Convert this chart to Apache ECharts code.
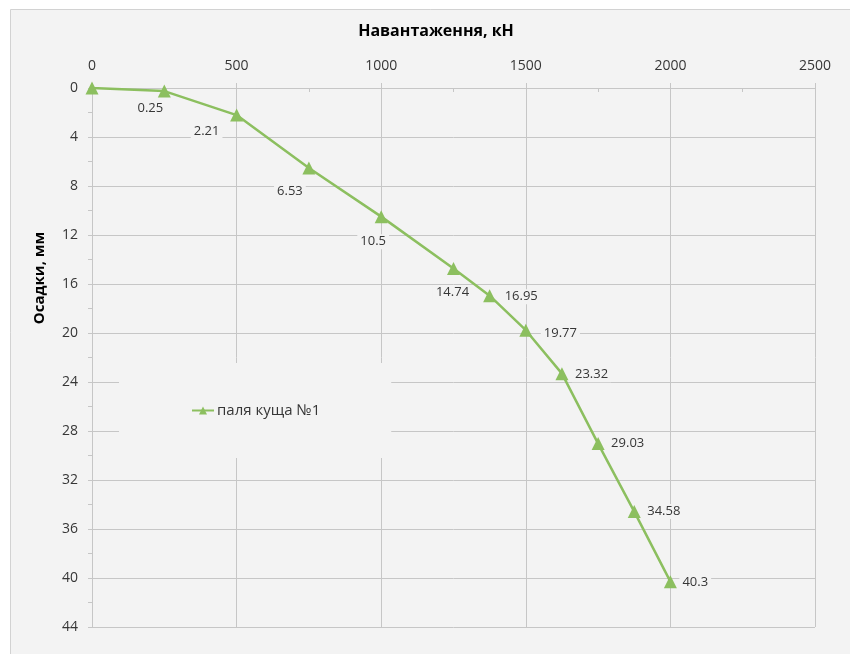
<!DOCTYPE html>
<html>
<head>
<meta charset="utf-8">
<title>Осадки палі</title>
<script src="https://cdn.jsdelivr.net/npm/echarts@6/dist/echarts.min.js"></script>
<style>
  html, body { margin: 0; padding: 0; background: #ffffff; }
  #chart { width: 850px; height: 654px; }
</style>
</head>
<body>
<div id="chart"></div>
<script>
// Load steps, kN
const loads = [0, 250, 500, 750, 1000, 1250, 1375, 1500, 1625, 1750, 1875, 2000];
// Measured settlement at each step, mm
const settlements = [0, 0.25, 2.21, 6.53, 10.5, 14.74, 16.95, 19.77, 23.32, 29.03, 34.58, 40.3];
const seriesName = 'паля куща №1';
const xTitle = 'Навантаження, кН';
const yTitle = 'Осадки, мм';

// Label placement per point: [dx, dy] of the label from its marker, and anchor
const labelLayout = [
  null,
  { dx: -14, dy: 17, align: 'center' },
  { dx: -30, dy: 16, align: 'center' },
  { dx: -19, dy: 23, align: 'center' },
  { dx: -8, dy: 25, align: 'center' },
  { dx: -1, dy: 24, align: 'center' },
  { dx: 12, dy: 1, align: 'left' },
  { dx: 15, dy: 3, align: 'left' },
  { dx: 10, dy: 1, align: 'left' },
  { dx: 10, dy: 0, align: 'left' },
  { dx: 10, dy: 0, align: 'left' },
  { dx: 9, dy: 1, align: 'left' }
];

const FONT = '"Open Sans", "Noto Sans", sans-serif';
const GREEN = '#8cbf5f';
const GRID = '#c6c6c6';
const TEXT = '#363636';
const BG = '#f3f3f3';

const points = loads.map((x, i) => {
  const lay = labelLayout[i];
  const item = { value: [x, settlements[i]] };
  if (!lay) {
    item.label = { show: false };
  } else {
    item.label = {
      show: true,
      position: 'inside',
      align: lay.align,
      offset: [lay.dx, lay.dy]
    };
  }
  return item;
});

const chart = echarts.init(document.getElementById('chart'), null, { renderer: 'canvas' });
chart.setOption({
  backgroundColor: '#ffffff',
  animation: false,
  textStyle: { fontFamily: FONT },
  graphic: [
    {
      type: 'rect',
      z: -100,
      silent: true,
      shape: { x: 10.5, y: 9.5, width: 860, height: 660 },
      style: { fill: BG, stroke: '#d2d2d2', lineWidth: 1 }
    },
    {
      // horizontal axis title
      type: 'text',
      silent: true,
      x: 436, y: 31,
      style: {
        text: xTitle,
        fontFamily: FONT, fontSize: 16, fontWeight: 'bold', fill: '#000000',
        textAlign: 'center', textVerticalAlign: 'middle'
      }
    },
    {
      // vertical axis title
      type: 'text',
      silent: true,
      x: 40, y: 278,
      rotation: Math.PI / 2,
      style: {
        text: yTitle,
        fontFamily: FONT, fontSize: 15, fontWeight: 'bold', fill: '#000000',
        textAlign: 'center', textVerticalAlign: 'middle'
      }
    }
  ],
  grid: { left: 92, top: 88, right: 35, bottom: 27, containLabel: false },
  xAxis: {
    type: 'value',
    position: 'top',
    min: 0, max: 2500, interval: 500,
    axisLine: { show: true, lineStyle: { color: GRID, width: 1 } },
    axisTick: { show: true, length: 5, lineStyle: { color: GRID } },
    minorTick: { show: true, splitNumber: 2, length: -4, lineStyle: { color: GRID } },
    axisLabel: { margin: 15, fontSize: 14, color: TEXT, fontFamily: FONT, formatter: v => String(v) },
    splitLine: { show: true, lineStyle: { color: GRID, width: 1 } }
  },
  yAxis: {
    type: 'value',
    inverse: true,
    min: 0, max: 44, interval: 4,
    axisLine: { show: true, lineStyle: { color: GRID, width: 1 } },
    axisTick: { show: true, length: 4, lineStyle: { color: GRID } },
    minorTick: { show: true, splitNumber: 2, length: 4, lineStyle: { color: GRID } },
    axisLabel: { margin: 14, fontSize: 14, color: TEXT, fontFamily: FONT },
    splitLine: { show: true, lineStyle: { color: GRID, width: 1 } }
  },
  legend: {
    left: 119,
    top: 363,
    padding: [40, 71, 40, 72],
    backgroundColor: BG,
    itemWidth: 22,
    itemHeight: 10,
    itemGap: 4,
    textStyle: { fontFamily: FONT, fontSize: 15, color: TEXT, padding: [0, 0, 0, -2] },
    data: [seriesName]
  },
  series: [{
    name: seriesName,
    type: 'line',
    data: points,
    symbol: 'triangle',
    symbolSize: 13,
    itemStyle: { color: GREEN },
    lineStyle: { color: GREEN, width: 2.5 },
    label: {
      fontFamily: FONT,
      fontSize: 13,
      color: TEXT,
      backgroundColor: BG,
      padding: [1, 3],
      formatter: p => String(p.value[1])
    },
    z: 3
  }]
});
</script>
</body>
</html>
